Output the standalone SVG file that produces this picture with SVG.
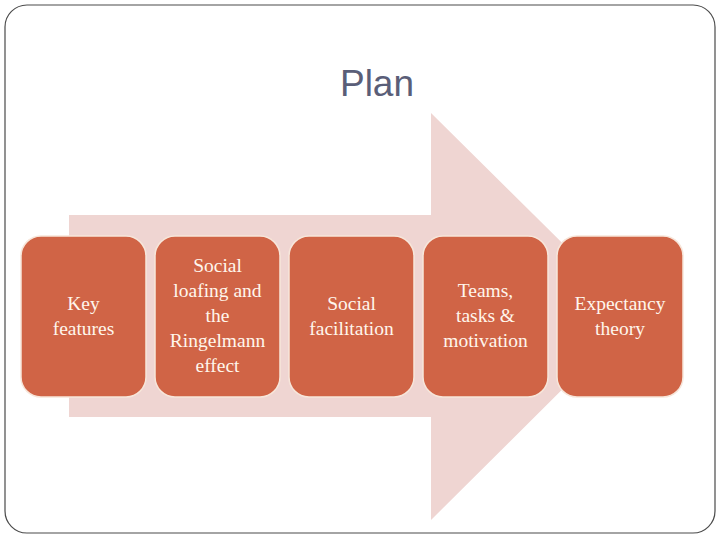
<svg xmlns="http://www.w3.org/2000/svg" width="720" height="540" viewBox="0 0 720 540">
<style>
.box{fill:#D06446;stroke:#F7E6DA;stroke-width:1.5}
.lbl{font-family:"Liberation Serif","DejaVu Serif",serif;font-size:19.5px;fill:#FFF6EC;text-anchor:middle}
.title{font-family:"Liberation Sans","Arial",sans-serif;font-size:37px;fill:#5A5E78;text-anchor:middle}
</style>
<rect x="0" y="0" width="720" height="540" fill="#FFFFFF"/>
<rect x="5" y="5" width="710" height="528" rx="22" fill="#FFFFFF" stroke="#4A4A4A" stroke-width="1.2"/>
<text class="title" x="377" y="96">Plan</text>
<g id="connectors">
<polygon points="69,215 431,215 431,113 636,316 431,520 431,417 69,417" fill="#EFD5D2"/>
</g>
<g id="n1"><rect class="box" x="21" y="236" width="125" height="161" rx="20"/>
<text class="lbl" x="83.5" y="310">Key</text><text class="lbl" x="83.5" y="335">features</text></g>
<g id="n2"><rect class="box" x="155" y="236" width="125" height="161" rx="20"/>
<text class="lbl" x="217.5" y="272">Social</text><text class="lbl" x="217.5" y="297">loafing and</text><text class="lbl" x="217.5" y="322">the</text><text class="lbl" x="217.5" y="347">Ringelmann</text><text class="lbl" x="217.5" y="372">effect</text></g>
<g id="n3"><rect class="box" x="289" y="236" width="125" height="161" rx="20"/>
<text class="lbl" x="351.5" y="310">Social</text><text class="lbl" x="351.5" y="335">facilitation</text></g>
<g id="n4"><rect class="box" x="423" y="236" width="125" height="161" rx="20"/>
<text class="lbl" x="485.5" y="297">Teams,</text><text class="lbl" x="485.5" y="322">tasks &amp;</text><text class="lbl" x="485.5" y="347">motivation</text></g>
<g id="n5"><rect class="box" x="557" y="236" width="126" height="161" rx="20"/>
<text class="lbl" x="620" y="310">Expectancy</text><text class="lbl" x="620" y="335">theory</text></g>
</svg>
